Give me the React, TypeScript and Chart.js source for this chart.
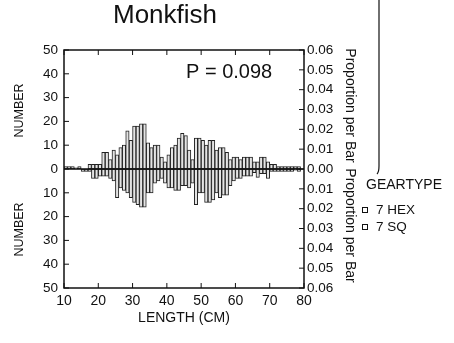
import React, { useEffect, useRef } from "react";
import { Chart, registerables } from "chart.js";

Chart.register(...registerables);

// ---- data ----
const chartTitle = "Monkfish";
const pValueText = "P = 0.098";
const legendTitle = "GEARTYPE";
const seriesNames = ["7 HEX", "7 SQ"];
const xAxisTitle = "LENGTH (CM)";
const leftAxisTitle = "NUMBER";
const rightAxisTitle = "Proportion per Bar";

// bin start (cm), 1-cm bins
const lengthBins = [
  10, 11, 12, 13, 14, 15, 16, 17, 18, 19,
  20, 21, 22, 23, 24, 25, 26, 27, 28, 29,
  30, 31, 32, 33, 34, 35, 36, 37, 38, 39,
  40, 41, 42, 43, 44, 45, 46, 47, 48, 49,
  50, 51, 52, 53, 54, 55, 56, 57, 58, 59,
  60, 61, 62, 63, 64, 65, 66, 67, 68, 69,
  70, 71, 72, 73, 74, 75, 76, 77, 78, 79,
];

// 7 HEX (plotted upward)
const hexCounts = [
  1, 1, 1, 0.5, 1, 0, 0, 2, 2, 2,
  2, 7, 7, 4, 8, 6, 9, 10, 16, 12,
  18, 18, 19, 19, 11, 9, 10, 10, 5, 3,
  6, 9, 10, 13, 15, 14, 8, 4, 13, 13,
  12, 10, 12, 12, 8, 9, 9, 7, 4, 5,
  5, 4, 5, 5, 5, 3, 3, 5, 5, 3,
  2, 2, 1, 1, 1, 1, 1, 1, 1, 0,
];

// 7 SQ (plotted downward)
const sqCounts = [
  0, 0, 0, 0, 0, 1, 1, 1, 4, 4,
  3, 3, 3, 4, 5, 12, 8, 9, 10, 12,
  14, 15, 16, 16, 10, 10, 6, 5, 4, 6,
  8, 8, 9, 9, 7, 7, 8, 6, 15, 10,
  10, 14, 14, 13, 10, 12, 11, 11, 7, 5,
  4, 4, 3, 3, 3, 1.5, 3.5, 2, 2, 4,
  1, 1, 1, 1, 1, 1, 1, 0.5, 1, 0,
];

const numberRange = [-50, 50];
const proportionRange = [-0.06, 0.06];
const lengthRange = [10, 80];

const FONT = '"Liberation Sans", Arial, Helvetica, sans-serif';

const annotationPlugin = {
  id: "annotations",
  afterDatasetsDraw(chart: any) {
    const ctx = chart.ctx;
    const { left, right, top, bottom } = chart.chartArea;
    const ys = chart.scales.y;
    const y2 = chart.scales.y2;
    const xs = chart.scales.x;
    ctx.save();
    ctx.strokeStyle = "#111";
    ctx.lineWidth = 1.5;
    // zero line
    const zy = ys.getPixelForValue(0);
    ctx.beginPath();
    ctx.moveTo(left, zy);
    ctx.lineTo(right, zy);
    ctx.stroke();
    // frame
    ctx.strokeRect(left, top, right - left, bottom - top);
    // inside ticks
    ctx.lineWidth = 1;
    ctx.beginPath();
    ys.ticks.forEach((t: any) => {
      const p = ys.getPixelForValue(t.value);
      ctx.moveTo(left, p);
      ctx.lineTo(left + 5, p);
    });
    y2.ticks.forEach((t: any) => {
      const p = y2.getPixelForValue(t.value);
      ctx.moveTo(right, p);
      ctx.lineTo(right - 5, p);
    });
    xs.ticks.forEach((t: any) => {
      const p = xs.getPixelForValue(t.value);
      ctx.moveTo(p, bottom);
      ctx.lineTo(p, bottom - 5);
      ctx.moveTo(p, top);
      ctx.lineTo(p, top + 5);
    });
    ctx.stroke();
    ctx.restore();
  },
  afterDraw(chart: any) {
    const ctx = chart.ctx;
    const { left, right, top, bottom } = chart.chartArea;
    ctx.save();
    ctx.fillStyle = "#111";
    ctx.strokeStyle = "#111";

    // title
    ctx.font = `26px ${FONT}`;
    ctx.textAlign = "center";
    ctx.textBaseline = "alphabetic";
    ctx.fillText(chartTitle, 165, 23);

    // P value
    ctx.font = `20px ${FONT}`;
    ctx.textAlign = "left";
    ctx.textBaseline = "middle";
    ctx.fillText(pValueText, 186, 72);

    // x title
    ctx.font = `14px ${FONT}`;
    ctx.textAlign = "center";
    ctx.textBaseline = "middle";
    ctx.fillText(xAxisTitle, (left + right) / 2, 318);

    const mid = (top + bottom) / 2;
    // left titles
    ctx.font = `12.5px ${FONT}`;
    [(top + mid) / 2 + 1, (mid + bottom) / 2 + 1].forEach((cy) => {
      ctx.save();
      ctx.translate(20, cy);
      ctx.rotate(-Math.PI / 2);
      ctx.fillText(leftAxisTitle, 0, 0);
      ctx.restore();
    });
    // right titles
    ctx.font = `14px ${FONT}`;
    [(top + mid) / 2 - 4, (mid + bottom) / 2 - 3].forEach((cy) => {
      ctx.save();
      ctx.translate(350, cy);
      ctx.rotate(Math.PI / 2);
      ctx.fillText(rightAxisTitle, 0, 0);
      ctx.restore();
    });

    // legend frame remnant
    ctx.lineWidth = 1.2;
    ctx.beginPath();
    ctx.moveTo(379, 0);
    ctx.lineTo(379, 166);
    ctx.quadraticCurveTo(379, 172, 377, 174);
    ctx.stroke();

    // legend
    ctx.font = `14px ${FONT}`;
    ctx.textAlign = "left";
    ctx.textBaseline = "middle";
    ctx.fillText(legendTitle, 366, 185);
    ctx.font = `13.5px ${FONT}`;
    ctx.lineWidth = 1;
    seriesNames.forEach((name, i) => {
      const cy = 210 + i * 17;
      ctx.strokeRect(362.5, cy - 2.5, 5, 5);
      ctx.fillText(name, 376, cy);
    });
    ctx.restore();
  },
};

export default function App() {
  const ref = useRef<HTMLCanvasElement | null>(null);

  useEffect(() => {
    if (!ref.current) return;
    const chart = new Chart(ref.current, {
      type: "bar",
      data: {
        datasets: [
          {
            label: seriesNames[0],
            data: hexCounts.map((v, i) => ({ x: lengthBins[i] + 0.5, y: v })),
            backgroundColor: "#e4e4e4",
            borderColor: "#222",
            borderWidth: 1,
            borderSkipped: false,
            grouped: false,
            barPercentage: 1,
            categoryPercentage: 1,
            yAxisID: "y",
          } as any,
          {
            label: seriesNames[1],
            data: sqCounts.map((v, i) => ({ x: lengthBins[i] + 0.5, y: -v })),
            backgroundColor: "#e4e4e4",
            borderColor: "#222",
            borderWidth: 1,
            borderSkipped: false,
            grouped: false,
            barPercentage: 1,
            categoryPercentage: 1,
            yAxisID: "y",
          } as any,
        ],
      },
      options: {
        responsive: false,
        animation: false,
        devicePixelRatio: 1,
        layout: { padding: { top: 50, left: 0, right: 0, bottom: 0 } },
        plugins: {
          legend: { display: false },
          tooltip: { enabled: false },
          title: { display: false },
        },
        scales: {
          x: {
            type: "linear",
            position: "bottom",
            min: lengthRange[0],
            max: lengthRange[1],
            offset: false,
            grid: { display: false, drawTicks: false },
            border: { display: false },
            ticks: {
              stepSize: 10,
              padding: 5,
              color: "#111",
              font: { family: FONT, size: 14 },
              maxRotation: 0,
            },
            afterFit: (s: any) => {
              s.height = 55;
            },
          },
          y: {
            position: "left",
            min: numberRange[0],
            max: numberRange[1],
            grid: { display: false, drawTicks: false },
            border: { display: false },
            ticks: {
              stepSize: 10,
              padding: 6,
              color: "#111",
              font: { family: FONT, size: 13.5 },
              callback: (v: any) => String(Math.abs(Number(v))),
            },
            afterFit: (s: any) => {
              s.width = 64;
            },
          },
          y2: {
            position: "right",
            min: proportionRange[0],
            max: proportionRange[1],
            grid: { display: false, drawTicks: false },
            border: { display: false },
            ticks: {
              stepSize: 0.01,
              padding: 3,
              color: "#111",
              font: { family: FONT, size: 13.5 },
              callback: (v: any) => Math.abs(Number(v)).toFixed(2),
            },
            afterFit: (s: any) => {
              s.width = 150;
            },
          },
        },
      } as any,
      plugins: [annotationPlugin],
    });
    return () => chart.destroy();
  }, []);

  return (
    <div
      style={{
        position: "fixed",
        left: 0,
        top: 0,
        width: 454,
        height: 343,
        background: "#fff",
      }}
    >
      <canvas ref={ref} width={454} height={343} style={{ width: 454, height: 343, display: "block" }} />
    </div>
  );
}
